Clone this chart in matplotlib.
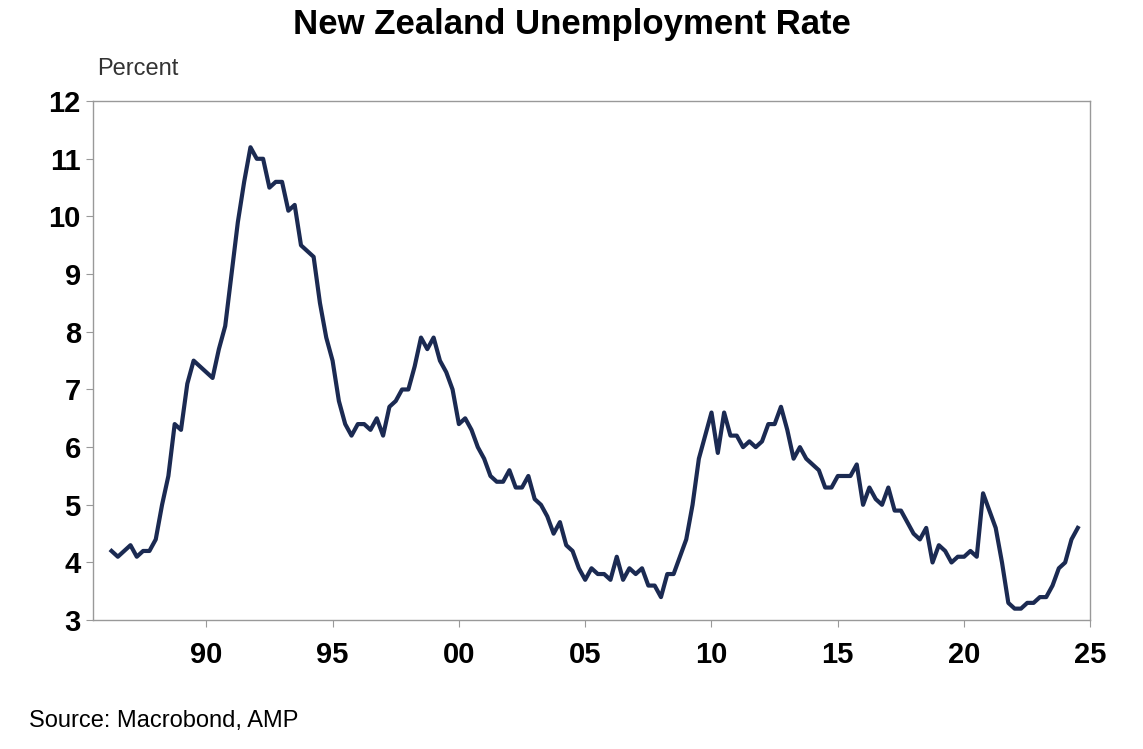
import matplotlib
matplotlib.use("Agg")
import matplotlib.pyplot as plt
import numpy as np
plt.rcParams['font.family'] = ['Liberation Sans', 'DejaVu Sans']

start_year = 1986.25
rate = [4.2,4.1,4.2,4.3, 4.1,4.2,4.2,4.4, 5.0,5.5,6.4,6.3, 7.1,7.5,7.4,7.3,
        7.2,7.7,8.1,9.0, 9.9,10.6,11.2,11.0, 11.0,10.5,10.6,10.6, 10.1,10.2,9.5,9.4,
        9.3,8.5,7.9,7.5, 6.8,6.4,6.2,6.4, 6.4,6.3,6.5,6.2, 6.7,6.8,7.0,7.0,
        7.4,7.9,7.7,7.9, 7.5,7.3,7.0,6.4, 6.5,6.3,6.0,5.8, 5.5,5.4,5.4,5.6,
        5.3,5.3,5.5,5.1, 5.0,4.8,4.5,4.7, 4.3,4.2,3.9,3.7, 3.9,3.8,3.8,3.7,
        4.1,3.7,3.9,3.8, 3.9,3.6,3.6,3.4, 3.8,3.8,4.1,4.4, 5.0,5.8,6.2,6.6,
        5.9,6.6,6.2,6.2, 6.0,6.1,6.0,6.1, 6.4,6.4,6.7,6.3, 5.8,6.0,5.8,5.7,
        5.6,5.3,5.3,5.5, 5.5,5.5,5.7,5.0, 5.3,5.1,5.0,5.3, 4.9,4.9,4.7,4.5,
        4.4,4.6,4.0,4.3, 4.2,4.0,4.1,4.1, 4.2,4.1,5.2,4.9, 4.6,4.0,3.3,3.2,
        3.2,3.3,3.3,3.4, 3.4,3.6,3.9,4.0, 4.4,4.6]
x_ticks = [1990,1995,2000,2005,2010,2015,2020,2025]
x_labels = ["90","95","00","05","10","15","20","25"]
y_ticks = list(range(3,13))

x = start_year + np.arange(len(rate))/4.0

fig = plt.figure(figsize=(11.43,7.49), dpi=100)
ax = fig.add_axes([0.081,0.172,0.873,0.693])
ax.plot(x, rate, color="#1b2a52", lw=3)
ax.set_xlim(1985.5, 2024.9)
ax.set_ylim(3,12)
ax.set_xticks(x_ticks); ax.set_xticklabels(x_labels)
ax.set_yticks(y_ticks)
for s in ax.spines.values():
    s.set_color("#999999"); s.set_linewidth(1)
ax.tick_params(labelsize=21, length=5, color="#999999", direction="out")
for t in ax.get_xticklabels()+ax.get_yticklabels():
    t.set_fontweight("bold")
ax.tick_params(axis='x', pad=10)
fig.text(0.5,0.955,"New Zealand Unemployment Rate", ha="center", fontsize=25, fontweight="bold")
fig.text(0.085,0.9,"Percent", fontsize=17, color="#333333")
fig.text(0.025,0.03,"Source: Macrobond, AMP", fontsize=17)
fig.savefig("out.png", dpi=100)
